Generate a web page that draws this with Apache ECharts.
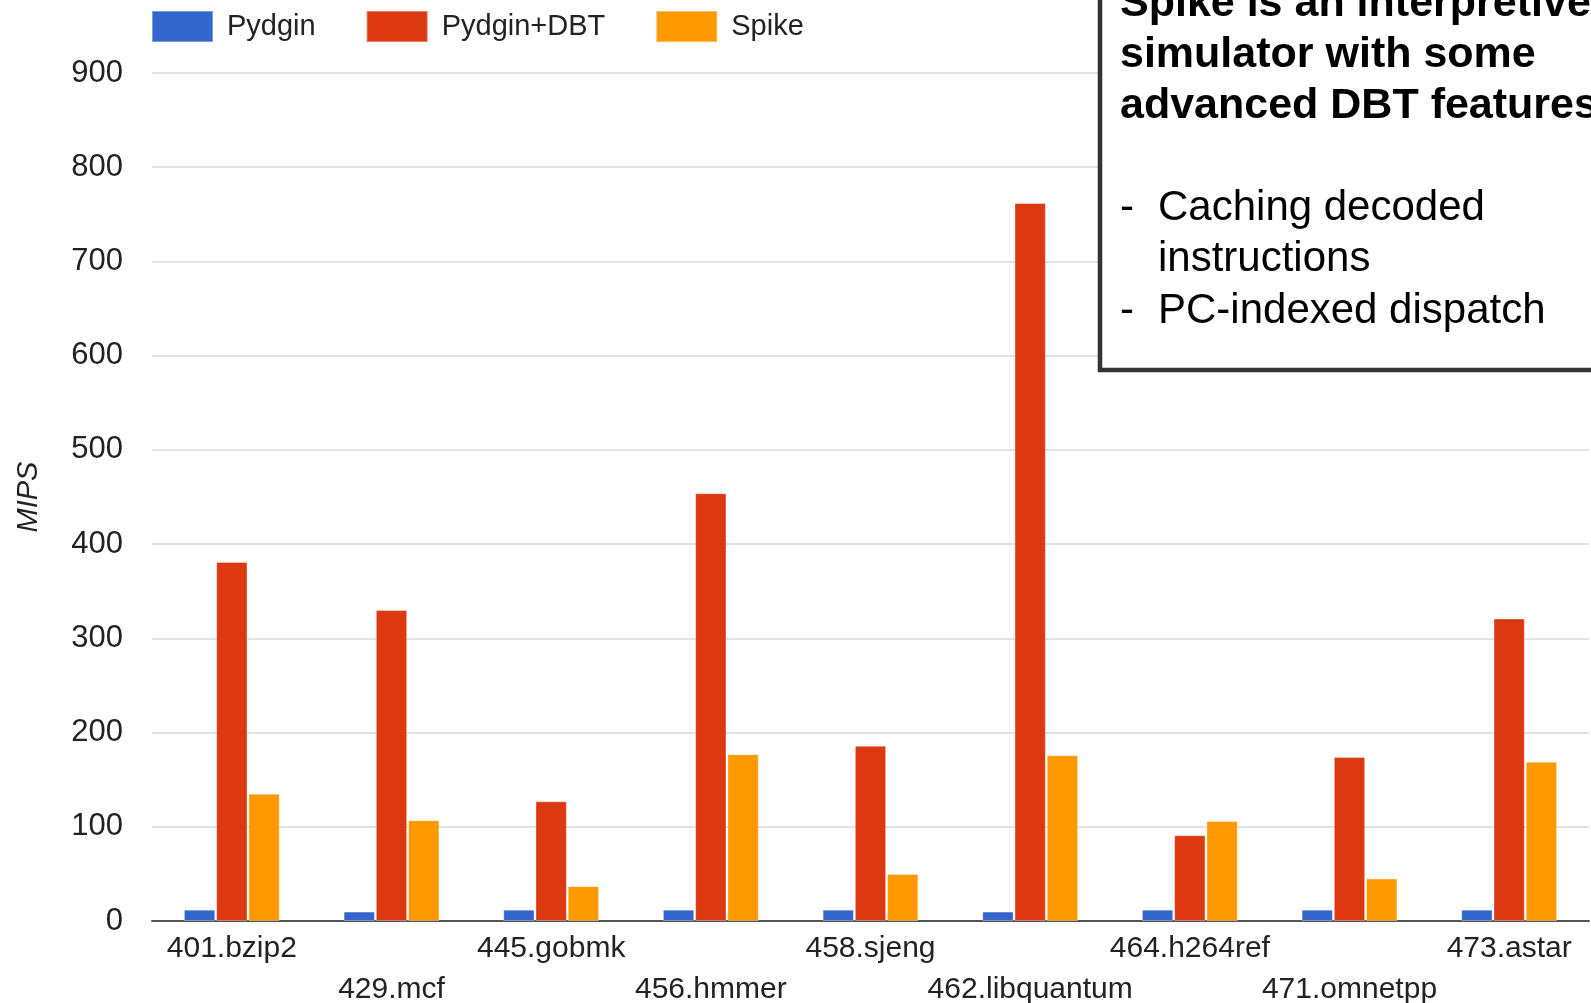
<!DOCTYPE html>
<html>
<head>
<meta charset="utf-8">
<title>MIPS by benchmark</title>
<script src="https://cdn.jsdelivr.net/npm/echarts@6/dist/echarts.min.js"></script>
<style>
  html, body { margin: 0; padding: 0; background: #fff; }
  #chart { width: 1591px; height: 1003px; }
</style>
</head>
<body>
<div id="chart"></div>
<script>
// SPEC CPU2006 benchmarks
const categories = ['401.bzip2', '429.mcf', '445.gobmk', '456.hmmer', '458.sjeng',
  '462.libquantum', '464.h264ref', '471.omnetpp', '473.astar'];

// Simulation speed in MIPS
const pydgin    = [12, 10, 12, 12, 12, 10, 12, 12, 12];
const pydginDbt = [381, 330, 127, 454, 186, 762, 91, 174, 321];
const spike     = [135, 107, 37, 177, 50, 176, 106, 45, 169];

const seriesNames = ['Pydgin', 'Pydgin+DBT', 'Spike'];
const yTicks = { min: 0, max: 900, interval: 100 };

const colors = ['#3366cc', '#dc3912', '#ff9900'];
const font = '"Liberation Sans", Arial, sans-serif';

const chart = echarts.init(document.getElementById('chart'), null, { renderer: 'canvas' });

function barSeries(name, data, color) {
  return {
    name: name,
    type: 'bar',
    data: data,
    barCategoryGap: '40%',
    barGap: '3%',
    itemStyle: { color: color, borderColor: 'rgba(255,255,255,0.35)', borderWidth: 1 },
    emphasis: { disabled: true }
  };
}

// Callout box in the upper right corner
const boxX = 1100;
const boldFs = 43, regFs = 42;
function boxText(str, x, y, bold) {
  const fs = bold ? boldFs : regFs;
  return {
    type: 'text',
    z: 20,
    x: x,
    y: y,
    style: {
      text: str,
      font: (bold ? 'bold ' : '') + fs + 'px ' + font,
      fill: '#000',
      textAlign: 'left',
      verticalAlign: 'bottom'
    }
  };
}

chart.setOption({
  animation: false,
  color: colors,
  textStyle: { fontFamily: font },
  legend: {
    left: 151,
    top: 10,
    padding: 0,
    icon: 'rect',
    itemWidth: 61,
    itemHeight: 31,
    itemGap: 50,
    selectedMode: false,
    textStyle: { fontSize: 29, color: '#222', fontFamily: font, padding: [0, 0, 0, 9] },
    data: seriesNames
  },
  grid: { left: 152, right: 2, top: 73, bottom: 82, containLabel: false, outerBoundsMode: 'none' },
  xAxis: {
    type: 'category',
    data: categories,
    axisLine: { show: true, lineStyle: { color: '#555', width: 2 } },
    axisTick: { show: false },
    axisLabel: {
      interval: 0,
      margin: 7,
      fontSize: 30,
      lineHeight: 41,
      color: '#222',
      fontFamily: font,
      formatter: function (value, index) {
        return index % 2 ? '\n' + value : value;
      }
    }
  },
  yAxis: {
    type: 'value',
    min: yTicks.min,
    max: yTicks.max,
    interval: yTicks.interval,
    name: 'MIPS',
    nameLocation: 'middle',
    nameGap: 109,
    nameTextStyle: { fontSize: 29, fontStyle: 'italic', color: '#222', fontFamily: font },
    axisLine: { show: false },
    axisTick: { show: false },
    axisLabel: { fontSize: 31, color: '#222', margin: 29, fontFamily: font },
    splitLine: { lineStyle: { color: '#d9d9d9', width: 1.5 } }
  },
  series: [
    barSeries(seriesNames[0], pydgin, colors[0]),
    barSeries(seriesNames[1], pydginDbt, colors[1]),
    barSeries(seriesNames[2], spike, colors[2])
  ],
  graphic: [
    {
      type: 'rect',
      z: 10,
      shape: { x: boxX, y: -20, width: 600, height: 390 },
      style: { fill: '#fff', stroke: '#333', lineWidth: 4.5 }
    },
    boxText('Spike is an interpretive', 1120, 26, true),
    boxText('simulator with some', 1120, 77, true),
    boxText('advanced DBT features', 1120, 128, true),
    boxText('-', 1120, 229, false),
    boxText('Caching decoded', 1158, 229, false),
    boxText('instructions', 1158, 280, false),
    boxText('-', 1120, 332, false),
    boxText('PC-indexed dispatch', 1158, 332, false)
  ]
});
</script>
</body>
</html>
